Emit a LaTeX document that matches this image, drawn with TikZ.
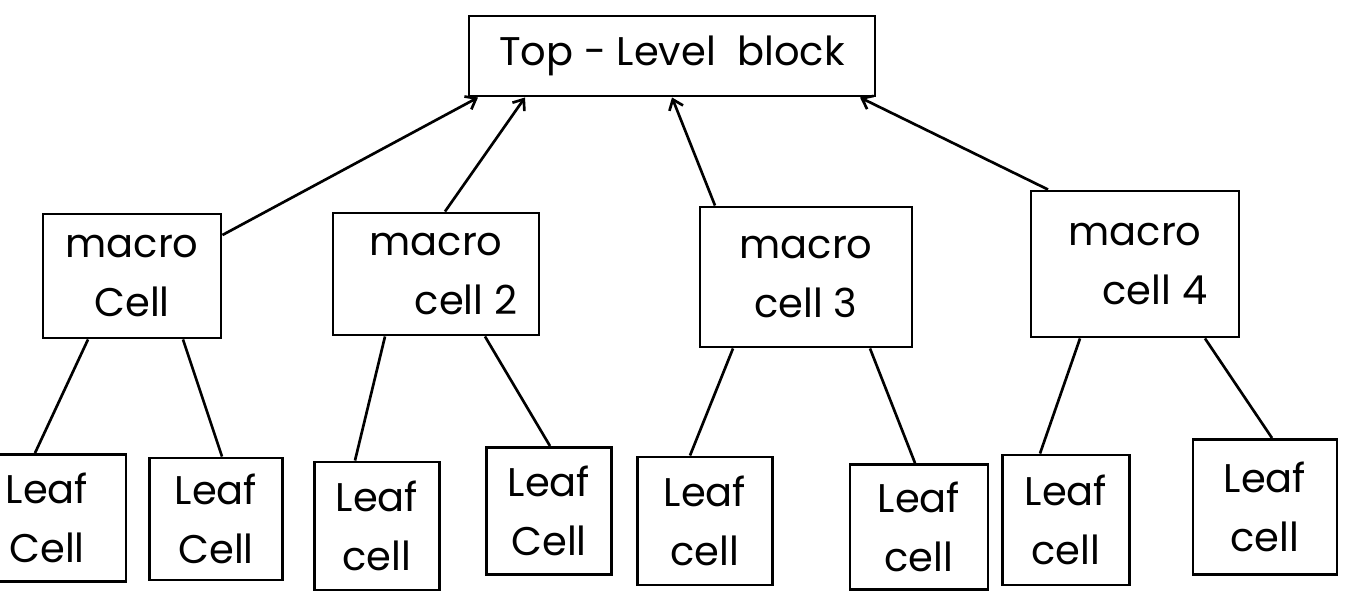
\documentclass[tikz,border=0pt]{standalone}
\usepackage{fontspec}
\setmainfont{Poppins}
\usetikzlibrary{arrows.meta,calc}
\begin{document}
\begin{tikzpicture}[x=0.75pt,y=-0.75pt,
  box/.style={draw, line width=2.2pt, rectangle, inner sep=0pt, align=center,
    font=\fontsize{30}{44}\selectfont},
  link/.style={line width=2pt},
  up/.style={line width=2pt, -{Straight Barb[length=7pt,width=11pt,line width=2pt]}}]
\useasboundingbox (0,0) rectangle (1349,593);
\fill[white] (0,0) rectangle (1349,593);
% top block
\node[box, minimum width=406*0.75pt, minimum height=80*0.75pt] (top) at (672,56) {Top - Level\ \ block};
% macro cells
\node[box, minimum width=178*0.75pt, minimum height=124*0.75pt] (m1) at (132,276) {macro\\Cell};
\node[box, minimum width=206*0.75pt, minimum height=122*0.75pt] (m2) at (436,274) {macro\\\hspace*{1.5em}cell 2};
\node[box, minimum width=212*0.75pt, minimum height=140*0.75pt] (m3) at (806,277) {macro\\cell 3};
\node[box, minimum width=208*0.75pt, minimum height=146*0.75pt] (m4) at (1135,264) {macro\\\hspace*{1em}cell 4};
% leaf cells
\node[box, minimum width=138*0.75pt, minimum height=127*0.75pt] (l1) at (57,518) {\hspace*{-0.5em}Leaf\\\hspace*{-0.5em}Cell};
\node[box, minimum width=133*0.75pt, minimum height=122*0.75pt] (l2) at (216,519) {Leaf\\Cell};
\node[box, minimum width=125*0.75pt, minimum height=128*0.75pt] (l3) at (377,526) {Leaf\\cell};
\node[box, minimum width=125*0.75pt, minimum height=127*0.75pt] (l4) at (549,511) {Leaf\\Cell};
\node[box, minimum width=135*0.75pt, minimum height=128*0.75pt] (l5) at (705,521) {Leaf\\cell};
\node[box, minimum width=138*0.75pt, minimum height=125*0.75pt] (l6) at (919,527) {Leaf\\cell};
\node[box, minimum width=127*0.75pt, minimum height=130*0.75pt] (l7) at (1066,520) {Leaf\\cell};
\node[box, minimum width=144*0.75pt, minimum height=135*0.75pt] (l8) at (1265,507) {Leaf\\cell};
% arrows to top block
\draw[up] ($(m1.east)+(0,-41)$) -- ($(top.south)+(-194,0)$);
\draw[up] ($(m2.north)+(9,0)$) -- ($(top.south)+(-147,0)$);
\draw[up] ($(m3.north)+(-91,0)$) -- (top.south);
\draw[up] ($(m4.north)+(-87,0)$) -- ($(top.south)+(188,0)$);
% links to leaf cells
\draw[link] ($(m1.south)+(-44,0)$) -- ($(l1.north)+(-22,0)$);
\draw[link] ($(m1.south)+(51,0)$) -- ($(l2.north)+(6,0)$);
\draw[link] ($(m2.south)+(-51,0)$) -- ($(l3.north)+(-22,0)$);
\draw[link] ($(m2.south)+(49,0)$) -- ($(l4.north)+(1,0)$);
\draw[link] ($(m3.south)+(-73,0)$) -- ($(l5.north)+(-15,0)$);
\draw[link] ($(m3.south)+(64,0)$) -- ($(l6.north)+(-4,0)$);
\draw[link] ($(m4.south)+(-55,0)$) -- ($(l7.north)+(-26,0)$);
\draw[link] ($(m4.south)+(70,0)$) -- ($(l8.north)+(7,0)$);
\end{tikzpicture}
\end{document}
